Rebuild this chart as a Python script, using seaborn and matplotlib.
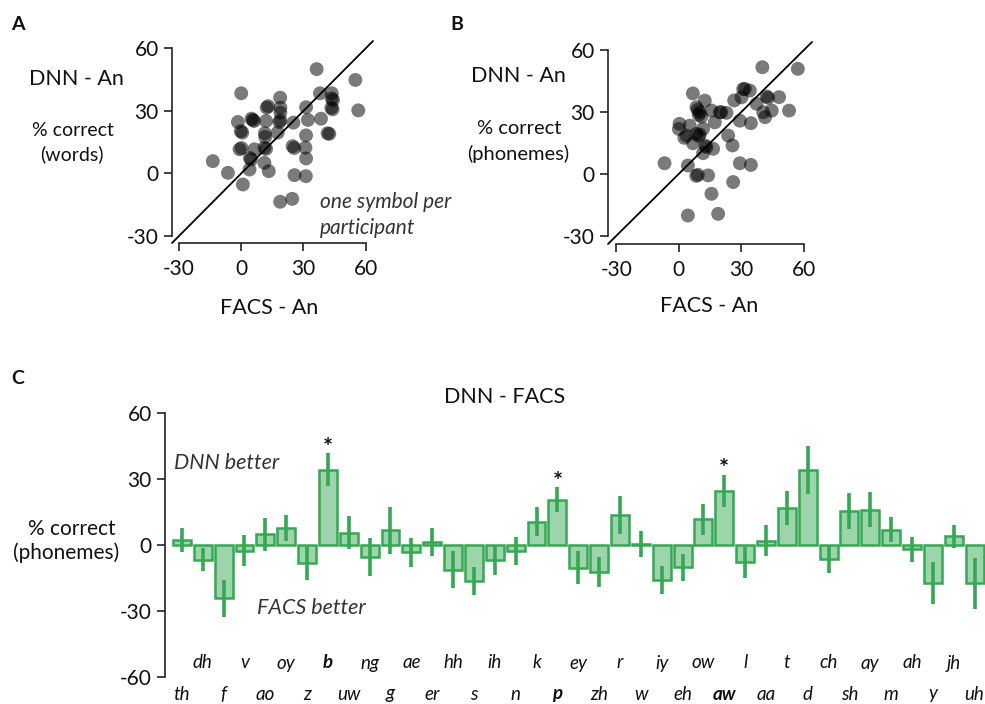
import matplotlib
matplotlib.use("Agg")
import matplotlib.pyplot as plt
import seaborn as sns
import pandas as pd

# ---------------- data ----------------
a_facs = [0.0, 18.8, 12.3, 13.0, 18.9, 18.9, -1.6, 5.6, 5.0, 6.2, 12.0, 18.4, 18.9, 25.2, 32.2,
          38.5, 38.0, 0.5, -0.2, 11.4, 11.6, 17.6, 31.3, 41.7, 42.5, -0.8, 0.2, 6.4, 11.2, 12.0,
          24.8, 25.6, 31.0, -13.7, 4.8, 4.2, 11.2, 31.3, -6.4, 4.0, 13.3, 25.7, 31.2, 0.8, 18.8,
          24.6, 36.4, 55.1, 56.5, 43.7, 43.7, 44.3, 44.1, 43.5, 31.3]
a_dnn = [38.5, 36.4, 31.6, 32.3, 31.6, 29.2, 24.7, 25.7, 26.3, 25.2, 25.2, 24.7, 25.5, 24.4, 25.7,
         26.3, 38.5, 19.6, 20.3, 19.3, 17.5, 19.6, 18.3, 19.3, 19.0, 11.6, 12.2, 11.6, 12.4, 11.8,
         13.1, 12.2, 12.4, 5.9, 6.7, 7.4, 5.1, 7.2, 0.3, 1.9, 1.1, -0.8, -1.3, -5.3, -13.6,
         -12.2, 50.1, 44.9, 30.3, 38.5, 36.0, 35.2, 30.8, 31.5, 31.8]

b_facs = [40.0, 57.0, 31.6, 30.8, 34.0, 42.0, 42.8, 48.0, 37.2, 40.4, 44.5, 52.8, 41.3, 26.5, 30.0,
          29.2, 34.5, 6.7, 12.4, 8.4, 9.0, 10.0, 9.5, 10.8, 15.6, 19.6, 20.3, 22.8, 17.2, 0.3,
          5.2, 0.0, 3.6, 2.6, 8.4, 9.5, 10.0, 6.7, 13.2, 12.6, 16.4, 11.6, 23.6, 25.7, -6.9,
          4.3, 9.1, 8.3, 14.0, 29.2, 34.5, 26.0, 15.6, 4.3, 18.8, 11.6]
b_dnn = [51.6, 50.8, 41.1, 41.0, 40.3, 37.4, 36.8, 37.1, 33.9, 29.8, 30.6, 30.6, 27.4, 35.5, 37.0,
         25.7, 24.5, 38.9, 35.4, 32.2, 31.0, 29.8, 28.5, 27.7, 30.6, 29.8, 29.8, 29.5, 24.9, 24.2,
         23.3, 21.7, 18.5, 17.4, 19.3, 18.2, 19.0, 14.8, 12.9, 13.6, 12.1, 10.0, 18.5, 13.7, 5.1,
         4.0, -0.5, -1.0, -0.8, 5.1, 4.3, -4.0, -9.7, -20.2, -19.4, 21.8]

phonemes = ['th', 'dh', 'f', 'v', 'ao', 'oy', 'z', 'b', 'uw', 'ng', 'g', 'ae', 'er', 'hh', 's',
            'ih', 'n', 'k', 'p', 'ey', 'zh', 'r', 'w', 'iy', 'eh', 'ow', 'aw', 'l', 'aa', 't',
            'd', 'ch', 'sh', 'ay', 'm', 'ah', 'y', 'jh', 'uh']
diff = [2.4, -6.7, -24.2, -2.6, 5.0, 7.6, -8.3, 34.2, 5.5, -5.5, 6.8, -3.3, 1.2, -11.2, -16.5,
        -6.8, -2.7, 10.6, 20.6, -10.3, -12.4, 13.6, 0.5, -15.8, -10.2, 11.6, 24.4, -7.9, 2.0, 16.7,
        34.2, -6.5, 15.5, 16.0, 7.0, -2.0, -17.3, 3.9, -17.3]
err = [5.4, 5.2, 8.5, 7.1, 7.5, 5.9, 7.4, 7.4, 7.5, 8.5, 10.7, 6.6, 6.4, 8.4, 6.4,
       7.0, 6.2, 6.6, 5.6, 7.4, 6.8, 8.5, 5.8, 6.3, 6.2, 7.2, 7.3, 7.0, 7.0, 7.8,
       11.0, 6.2, 8.0, 7.9, 5.6, 5.6, 9.6, 5.3, 11.6]
significant = ['b', 'p', 'aw']

scatter_ticks = [-30, 0, 30, 60]
bar_ticks = [-60, -30, 0, 30, 60]

# ---------------- style ----------------
sns.set_theme(style="ticks")
plt.rcParams['font.family'] = ['Lato', 'DejaVu Sans']
plt.rcParams['axes.unicode_minus'] = False
W, H = 985, 704
fig = plt.figure(figsize=(W / 100, H / 100), dpi=100)
TXT = '#111111'


def rect(l, t, r, b):
    return [l / W, 1 - b / H, (r - l) / W, (b - t) / H]


def ftext(px, py, s, **kw):
    kw.setdefault('color', TXT)
    fig.text(px / W, 1 - py / H, s, **kw)


def style_scatter_ax(ax, lo, hi):
    ax.set_xlim(lo, hi)
    ax.set_ylim(lo, hi)
    ax.plot([lo, hi], [lo, hi], color='black', lw=1.3, zorder=3, clip_on=False)
    sns.despine(ax=ax)
    ax.spines['left'].set_bounds(-30, 60)
    ax.spines['bottom'].set_bounds(-30, 60)
    for sp in ('left', 'bottom'):
        ax.spines[sp].set_linewidth(1.2)
        ax.spines[sp].set_color('#222222')
    ax.set_xticks(scatter_ticks)
    ax.set_yticks(scatter_ticks)
    ax.tick_params(axis='both', length=5.5, width=1.2, color='#222222',
                   labelsize=15, labelcolor=TXT)
    ax.tick_params(axis='x', pad=6)
    ax.tick_params(axis='y', pad=4)
    ax.set_xlabel('')
    ax.set_ylabel('')


# ---------------- panel A ----------------
axA = fig.add_axes(rect(172, 41, 373, 243))
sns.scatterplot(x=a_facs, y=a_dnn, ax=axA, color='black', alpha=0.52, s=100,
                edgecolor='none', linewidth=0, zorder=2)
style_scatter_ax(axA, -33.4, 63.6)

# ---------------- panel B ----------------
axB = fig.add_axes(rect(608, 42, 812, 244))
sns.scatterplot(x=b_facs, y=b_dnn, ax=axB, color='black', alpha=0.52, s=100,
                edgecolor='none', linewidth=0, zorder=2)
style_scatter_ax(axB, -34.0, 63.8)

# panel texts
ftext(18, 24, 'A', fontsize=14, fontweight='bold', ha='center', va='center')
ftext(457, 24, 'B', fontsize=14, fontweight='bold', ha='center', va='center')
ftext(18, 379, 'C', fontsize=14, fontweight='bold', ha='center', va='center')

ftext(76, 79, 'DNN - An', fontsize=15.5, ha='center', va='center')
ftext(73, 130, '% correct', fontsize=14, ha='center', va='center')
ftext(72, 154, '(words)', fontsize=14, ha='center', va='center')
ftext(269, 308, 'FACS - An', fontsize=15.5, ha='center', va='center')
ftext(320, 202, 'one symbol per', fontsize=15, style='italic', ha='left', va='center',
      color='#333333')
ftext(320, 228, 'participant', fontsize=15, style='italic', ha='left', va='center',
      color='#333333')

ftext(518, 76, 'DNN - An', fontsize=15.5, ha='center', va='center')
ftext(519, 129, '% correct', fontsize=14.5, ha='center', va='center')
ftext(518, 154, '(phonemes)', fontsize=14.5, ha='center', va='center')
ftext(709, 306, 'FACS - An', fontsize=15.5, ha='center', va='center')

# ---------------- panel C ----------------
FILL = '#9ed4ab'
EDGE = '#34a853'
axC = fig.add_axes(rect(165, 413, 985, 677))
df = pd.DataFrame({'phoneme': phonemes, 'diff': diff, 'err': err})
sns.barplot(data=df, x='phoneme', y='diff', ax=axC, color=FILL, saturation=1,
            edgecolor=EDGE, linewidth=1.8, width=0.86, errorbar=None, zorder=1)
xpos = list(range(len(phonemes)))
axC.errorbar(xpos, diff, yerr=err, fmt='none', ecolor=EDGE, elinewidth=2.6,
             capsize=0, zorder=3)
for i, ph in enumerate(phonemes):
    if ph in significant:
        axC.text(i, diff[i] + err[i] - 1.0, '*', ha='center', va='baseline',
                 fontsize=17, fontweight='bold', color=TXT)

axC.set_xlim(-0.81, 38.5)
axC.set_ylim(-60, 60)
axC.set_yticks(bar_ticks)
axC.set_xticks([])
axC.set_xlabel('')
axC.set_ylabel('')
sns.despine(ax=axC, bottom=True)
axC.spines['left'].set_linewidth(1.2)
axC.spines['left'].set_color('#222222')
axC.tick_params(axis='y', length=5.5, width=1.2, color='#222222', labelsize=15,
                labelcolor=TXT, pad=4)

trans = axC.get_xaxis_transform()
for i, ph in enumerate(phonemes):
    yfrac = (677 - 663) / 264 if i % 2 == 1 else (677 - 694) / 264
    axC.text(i, yfrac, ph, transform=trans, ha='center', va='center', fontsize=13.5,
             style='italic', fontweight='bold' if ph in significant else 'normal',
             color=TXT, clip_on=False)

axC.text(-0.4, 37.3, 'DNN better', ha='left', va='center', fontsize=15.5,
         style='italic', color='#333333')
axC.text(6.2, -28.6, 'FACS better', ha='center', va='center', fontsize=15.5,
         style='italic', color='#333333')

ftext(505, 397, 'DNN - FACS', fontsize=15.5, ha='center', va='center')
ftext(72, 529, '% correct', fontsize=15, ha='center', va='center')
ftext(66, 553, '(phonemes)', fontsize=15, ha='center', va='center')

fig.savefig('out.png', dpi=100)
